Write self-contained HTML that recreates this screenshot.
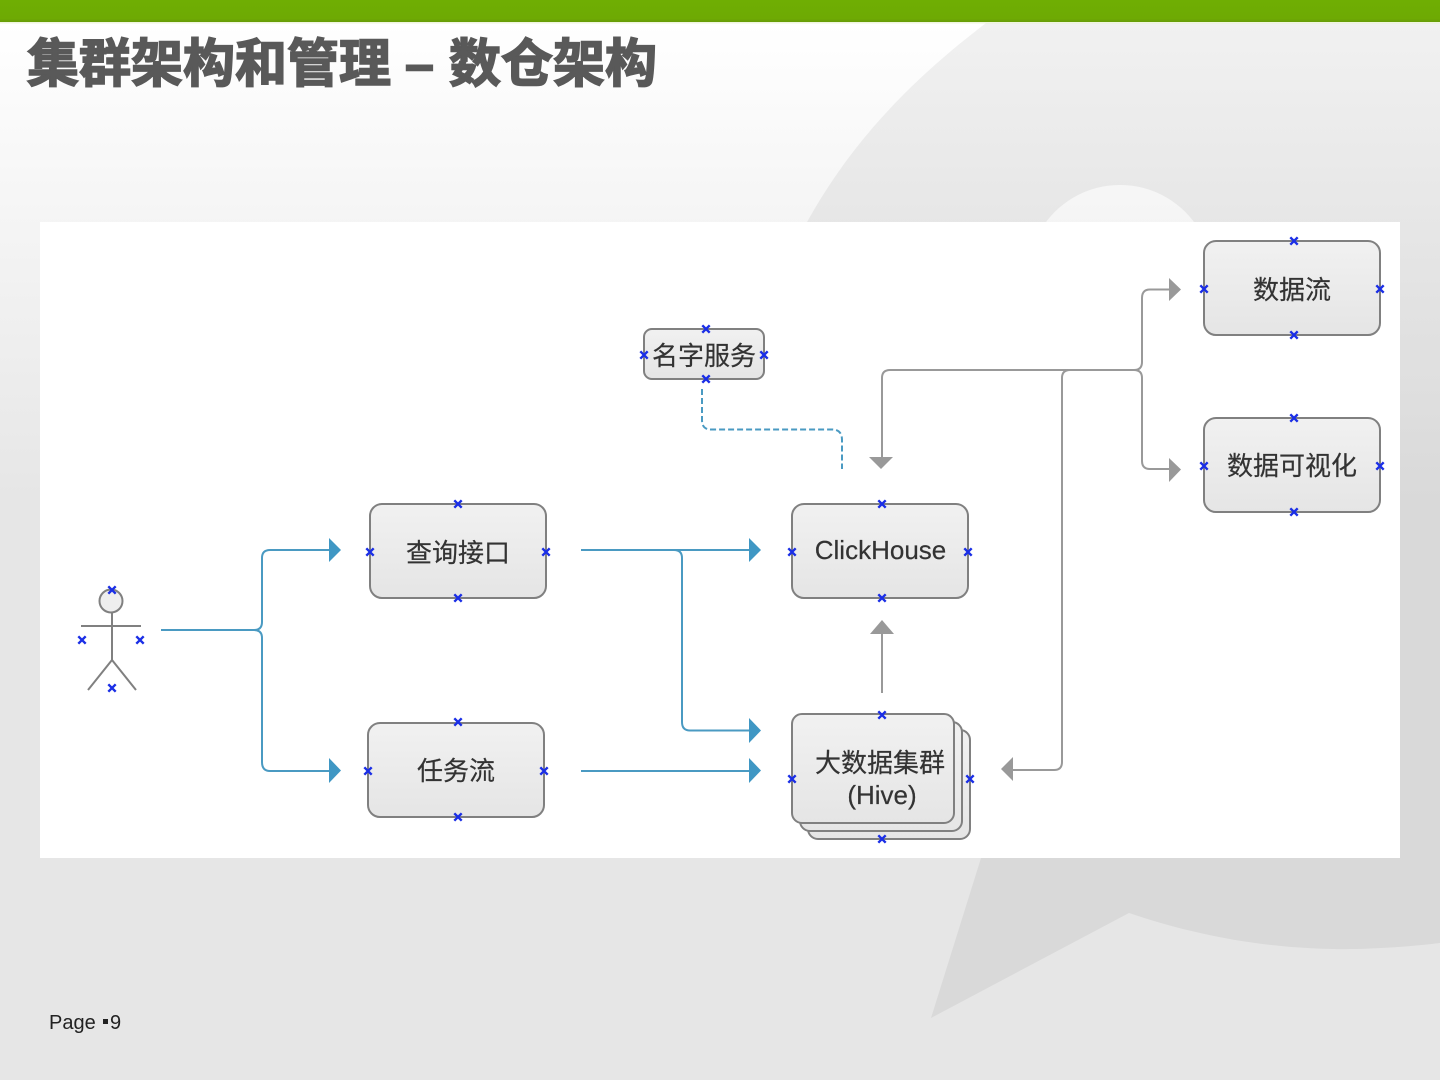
<!DOCTYPE html>
<html lang="zh">
<head>
<meta charset="utf-8">
<title>集群架构和管理 – 数仓架构</title>
<style>
html,body{margin:0;padding:0;width:1440px;height:1080px;overflow:hidden;background:#e6e6e6}
svg{display:block}
.n{font-family:"Liberation Sans","Noto Sans CJK SC",sans-serif;font-size:26px;fill:#333;stroke:#333;stroke-width:.2px;text-anchor:middle}
.t{font-family:"Liberation Sans","Noto Sans CJK SC",sans-serif;font-size:52px;font-weight:700;fill:#595959;stroke:#595959;stroke-width:1.6px}
.box{fill:url(#nodeGrad);stroke:#808080;stroke-width:2}
.b{fill:none;stroke:#4a9ac2;stroke-width:2}
.g{fill:none;stroke:#999;stroke-width:2}
</style>
</head>
<body>
<svg width="1440" height="1080" viewBox="0 0 1440 1080" xmlns="http://www.w3.org/2000/svg">
<defs>
<linearGradient id="bg" x1="0" y1="22" x2="0" y2="500" gradientUnits="userSpaceOnUse">
<stop offset="0" stop-color="#ffffff"/>
<stop offset="1" stop-color="#e6e6e6"/>
</linearGradient>
<linearGradient id="nodeGrad" x1="0" y1="0" x2="0" y2="1">
<stop offset="0" stop-color="#f1f1f1"/>
<stop offset="1" stop-color="#e5e5e5"/>
</linearGradient>
<linearGradient id="bar" x1="0" y1="0" x2="0" y2="1">
<stop offset="0" stop-color="#6fae03"/>
<stop offset="0.85" stop-color="#6eaa03"/>
<stop offset="1" stop-color="#679c08"/>
</linearGradient>
<g id="x"><path d="M-3.7,-3.7L3.7,3.7M-3.7,3.7L3.7,-3.7" stroke="#1a2ee6" stroke-width="2.4" fill="none"/></g>
</defs>

<rect width="1440" height="1080" fill="url(#bg)"/>
<path fill="#000" fill-opacity="0.055" fill-rule="evenodd" d="M986,23 C905,85 850,145 807,222 C760,320 760,700 981,858 L931,1018 L1129,913 C1215,942 1290,950 1357,949 C1390,948 1415,946 1440,943 L1440,23 Z M1120,185 a92.5,92.5 0 1,0 0.01,0 Z"/>
<rect x="0" y="0" width="1440" height="22" fill="url(#bar)"/>
<rect x="0" y="22" width="1440" height="1.5" fill="#e4efc8" opacity="0.6"/>

<text class="t" x="27" y="82">集群架构和管理</text>
<text class="t" x="405" y="82">–</text>
<text class="t" x="449" y="82">数仓架构</text>

<rect x="40" y="222" width="1360" height="636" fill="#fff"/>

<!-- actor -->
<g fill="none" stroke="#808080" stroke-width="2">
<circle cx="111" cy="601" r="11.5" fill="#eeeeee"/>
<path d="M112,612.5V660M81,626H141M88,690L112,660L136,690"/>
</g>

<!-- blue connectors -->
<path class="b" d="M161,630H254Q262,630 262,622V558Q262,550 270,550H331"/>
<path class="b" d="M254,630Q262,630 262,638V762Q262,771 270,771H331"/>
<path class="b" d="M581,550H751"/>
<path class="b" d="M674,550Q682,550 682,558V722Q682,730.5 690,730.5H751"/>
<path class="b" d="M581,771H751"/>
<path d="M329,538L341,550L329,562Z" fill="#3f97c4"/>
<path d="M329,758L341,770.500L329,783Z" fill="#3f97c4"/>
<path d="M749,538L761,550L749,562Z" fill="#3f97c4"/>
<path d="M749,718L761,730.500L749,743Z" fill="#3f97c4"/>
<path d="M749,758L761,770.500L749,783Z" fill="#3f97c4"/>
<path class="b" stroke-dasharray="6,3" d="M702,389V420Q702,429.500 711,429.500H832Q842,429.500 842,440V469"/>

<!-- grey connectors -->
<path class="g" d="M882,460V378Q882,370 890,370H1134Q1142,370 1142,362V298Q1142,289.500 1150,289.500H1171"/>
<path class="g" d="M1134,370Q1142,370 1142,378V461Q1142,469 1150,469H1171"/>
<path class="g" d="M1070,370Q1062,370 1062,378V762Q1062,770 1054,770H1011"/>
<path class="g" d="M882,693V632"/>
<path d="M869,457H893L881,469Z" fill="#999"/>
<path d="M870,634H894L882,620Z" fill="#999"/>
<path d="M1169,278L1181,289.500L1169,301Z" fill="#999"/>
<path d="M1169,458L1181,469.500L1169,482Z" fill="#999"/>
<path d="M1013,757L1001,769L1013,781Z" fill="#999"/>

<!-- nodes -->
<rect class="box" x="370" y="504" width="176" height="94" rx="12"/>
<rect class="box" x="792" y="504" width="176" height="94" rx="12"/>
<rect class="box" x="368" y="723" width="176" height="94" rx="12"/>
<rect class="box" x="1204" y="241" width="176" height="94" rx="12"/>
<rect class="box" x="1204" y="418" width="176" height="94" rx="12"/>
<rect class="box" x="644" y="329" width="120" height="50" rx="8"/>
<rect class="box" x="808" y="730" width="162" height="109" rx="10"/>
<rect class="box" x="800" y="722" width="162" height="109" rx="10"/>
<rect class="box" x="792" y="714" width="162" height="109" rx="10"/>

<text class="n" x="458" y="562">查询接口</text>
<text class="n" x="880.500" y="559">ClickHouse</text>
<text class="n" x="456" y="780">任务流</text>
<text class="n" x="1292" y="299">数据流</text>
<text class="n" x="1292" y="475">数据可视化</text>
<text class="n" x="704" y="365">名字服务</text>
<text class="n" x="880" y="772">大数据集群</text>
<text class="n" x="882" y="804">(Hive)</text>

<!-- connection points -->
<use href="#x" x="458" y="504"/><use href="#x" x="370" y="552"/><use href="#x" x="546" y="552"/><use href="#x" x="458" y="598"/>
<use href="#x" x="882" y="504"/><use href="#x" x="792" y="552"/><use href="#x" x="968" y="552"/><use href="#x" x="882" y="598"/>
<use href="#x" x="458" y="722"/><use href="#x" x="368" y="771"/><use href="#x" x="544" y="771"/><use href="#x" x="458" y="817"/>
<use href="#x" x="882" y="715"/><use href="#x" x="792" y="779"/><use href="#x" x="970" y="779"/><use href="#x" x="882" y="839"/>
<use href="#x" x="1294" y="241"/><use href="#x" x="1204" y="289"/><use href="#x" x="1380" y="289"/><use href="#x" x="1294" y="335"/>
<use href="#x" x="1294" y="418"/><use href="#x" x="1204" y="466"/><use href="#x" x="1380" y="466"/><use href="#x" x="1294" y="512"/>
<use href="#x" x="706" y="329"/><use href="#x" x="644" y="355"/><use href="#x" x="764" y="355"/><use href="#x" x="706" y="379"/>
<use href="#x" x="112" y="590"/><use href="#x" x="82" y="640"/><use href="#x" x="140" y="640"/><use href="#x" x="112" y="688"/>

<text x="49" y="1029" font-family="Liberation Sans, sans-serif" font-size="20" fill="#222">Page</text>
<rect x="103" y="1019" width="5" height="5" fill="#222"/>
<text x="110" y="1029" font-family="Liberation Sans, sans-serif" font-size="20" fill="#222">9</text>
</svg>
</body>
</html>
